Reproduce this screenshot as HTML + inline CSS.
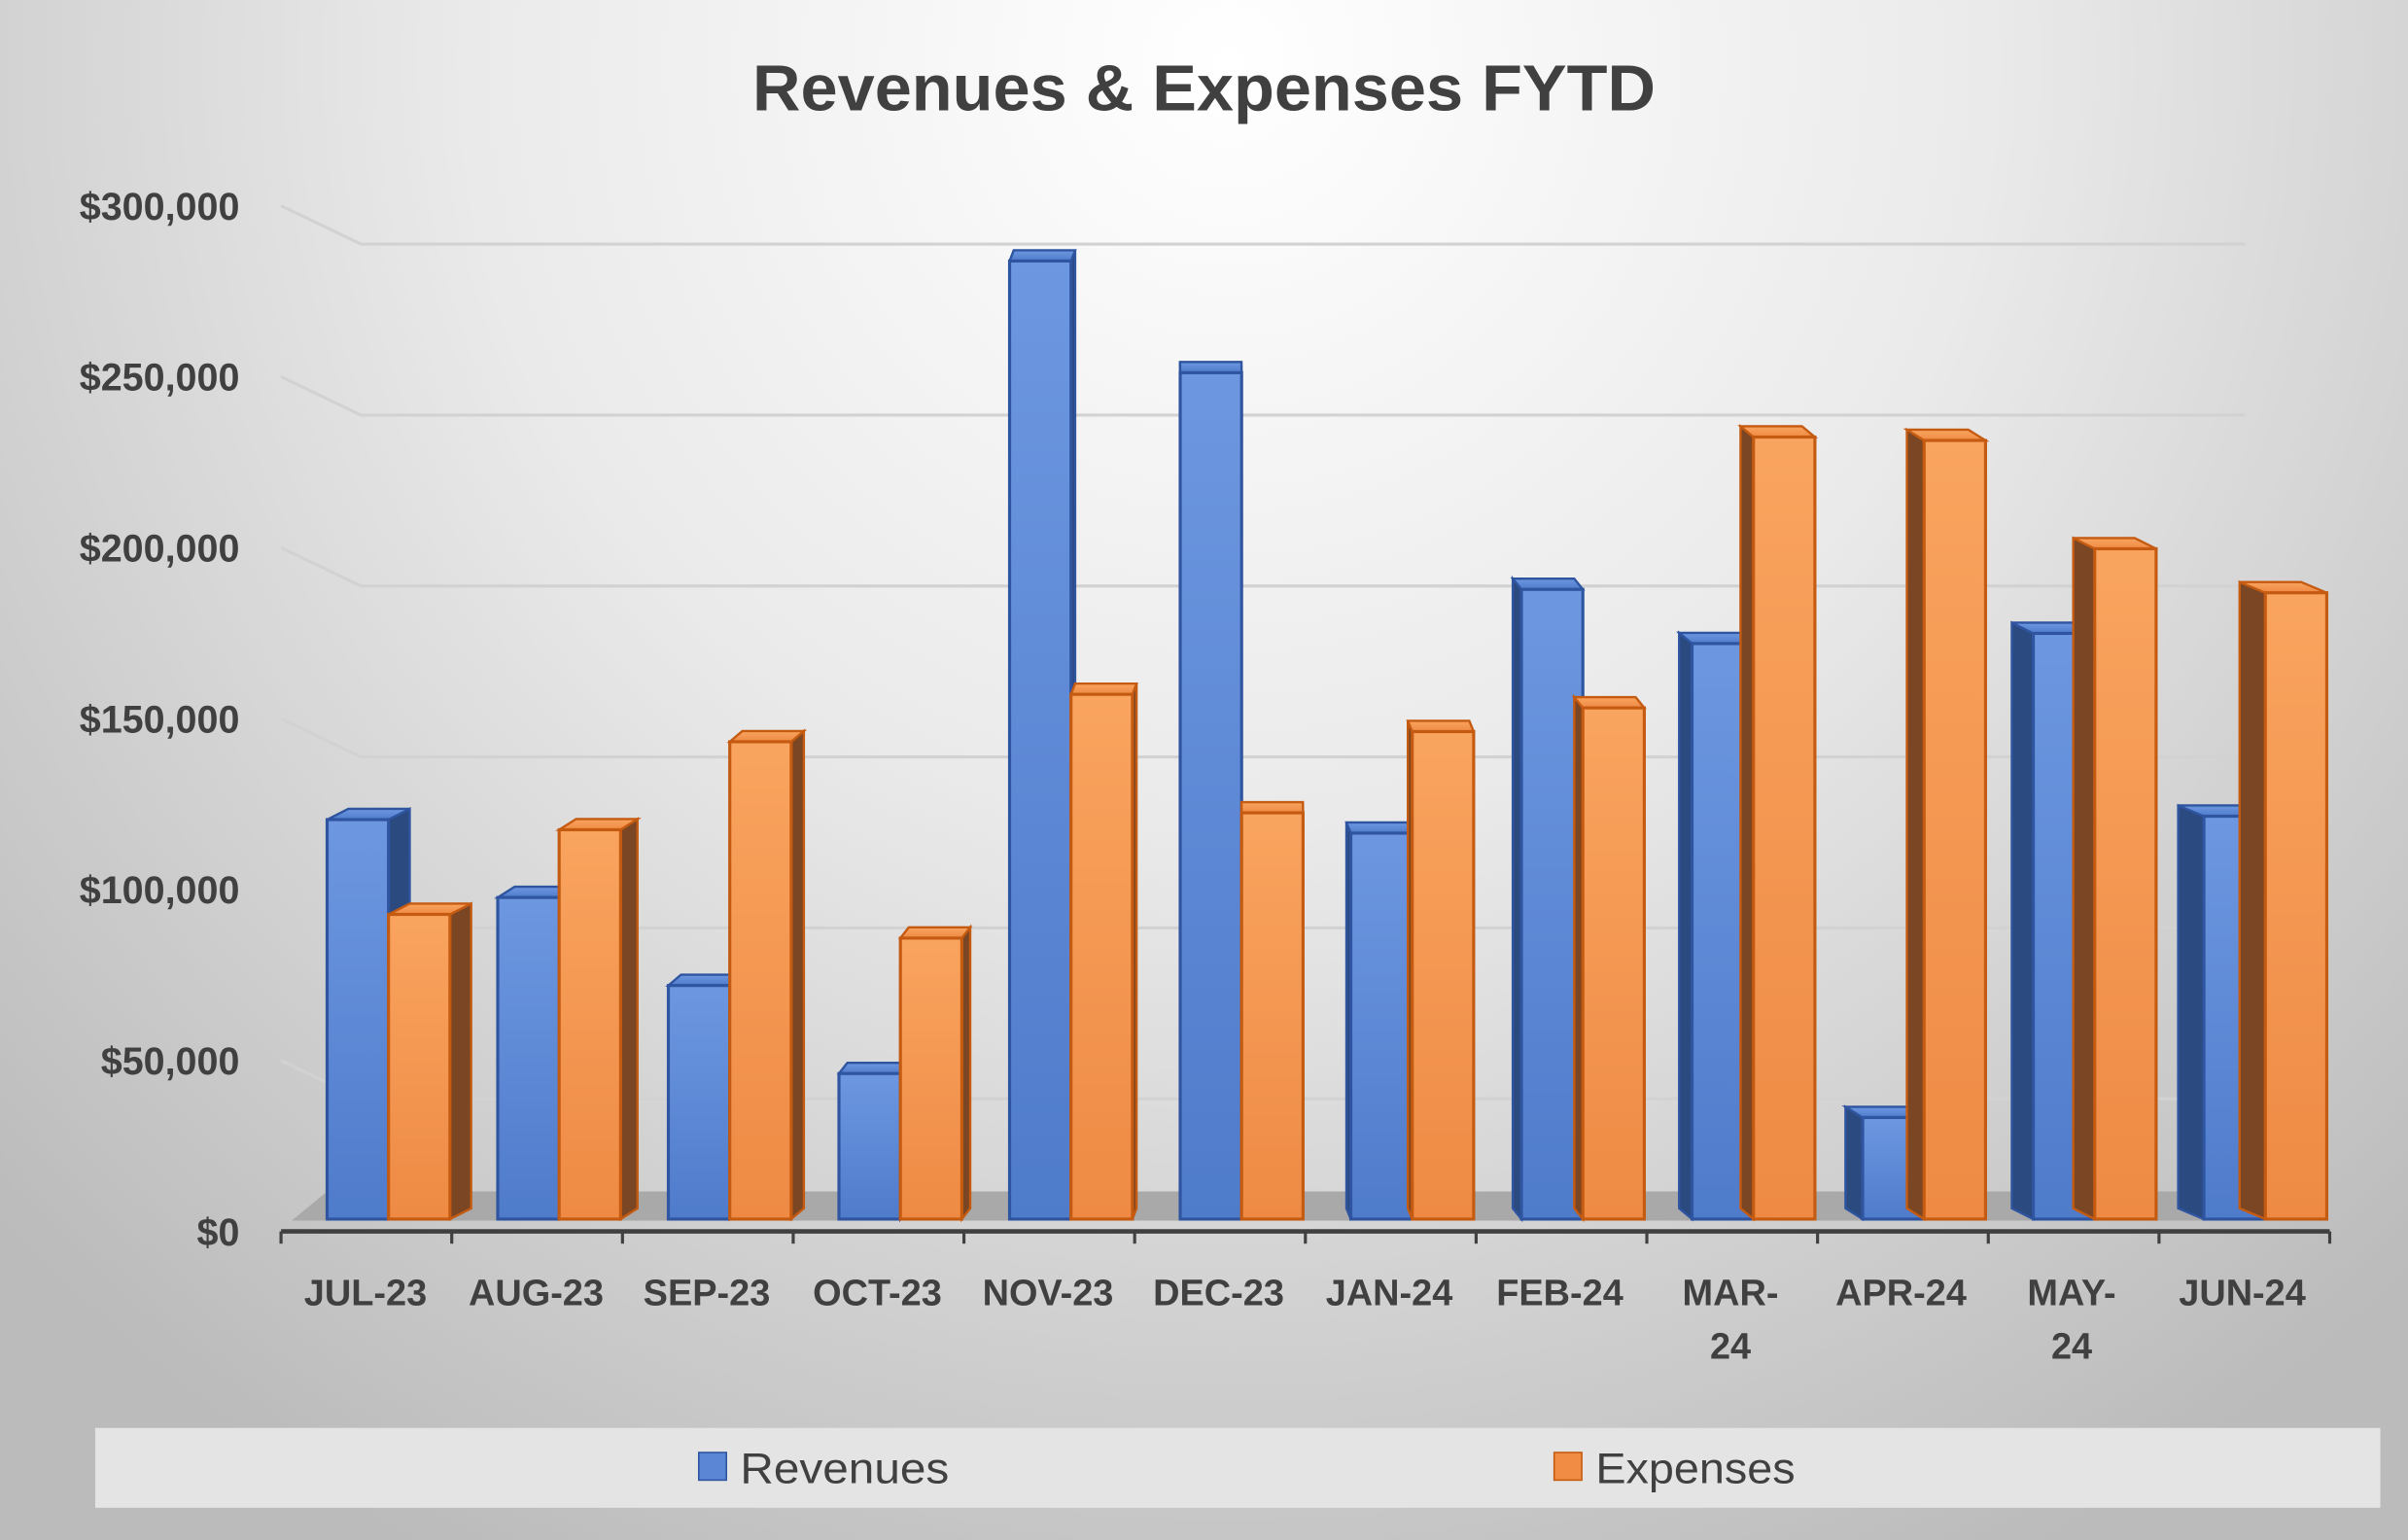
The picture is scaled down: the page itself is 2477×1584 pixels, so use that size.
<!DOCTYPE html>
<html><head><meta charset="utf-8"><style>
html,body{margin:0;padding:0;width:2477px;height:1584px;overflow:hidden;background:#d0d0d0}
svg{display:block}
text{font-family:"Liberation Sans",sans-serif}
</style></head><body>
<svg id="chart" width="2477" height="1584" viewBox="0 0 1568 1003" preserveAspectRatio="none" xmlns="http://www.w3.org/2000/svg">
<defs>
<radialGradient id="bg" cx="800" cy="40" r="1100" gradientUnits="userSpaceOnUse">
<stop offset="0" stop-color="#ffffff"/><stop offset="0.45" stop-color="#eaeaea"/><stop offset="1" stop-color="#bbbbbb"/>
</radialGradient>
<linearGradient id="revG" x1="0" y1="0" x2="0" y2="1"><stop offset="0" stop-color="#6d97e0"/><stop offset="1" stop-color="#4f7bcb"/></linearGradient>
<linearGradient id="expG" x1="0" y1="0" x2="0" y2="1"><stop offset="0" stop-color="#f9a45f"/><stop offset="1" stop-color="#ee8a44"/></linearGradient>
</defs>
<rect x="0" y="0" width="1568" height="1003" fill="url(#bg)"/>
<text x="784" y="72" text-anchor="middle" font-size="42" font-weight="bold" fill="#404040" textLength="588" lengthAdjust="spacingAndGlyphs">Revenues &amp; Expenses FYTD</text>
<g id="grid"></g>
<polygon points="213,776 1490,776 1512,795 190,795" fill="#a9a9a9"/>
<g id="bars"></g>
<g id="axes"></g>
<rect x="62" y="930" width="1488" height="52" fill="#e4e4e4"/>
<g>
<rect x="455" y="946" width="18" height="18" fill="#5b86d6" stroke="#2f55a0"/>
<text x="482" y="966" font-size="28" fill="#404040" textLength="136" lengthAdjust="spacingAndGlyphs">Revenues</text></g>
<g>
<rect x="1012" y="946" width="18" height="18" fill="#f08c44" stroke="#c55a11"/>
<text x="1039" y="966" font-size="28" fill="#404040" textLength="130" lengthAdjust="spacingAndGlyphs">Expenses</text></g>
</svg>
<script>
const categories=["JUL-23","AUG-23","SEP-23","OCT-23","NOV-23","DEC-23","JAN-24","FEB-24","MAR-24","APR-24","MAY-24","JUN-24"];
const revenues=[118000,95000,69000,43000,283000,250000,114000,186000,170000,30000,173000,119000];
const expenses=[90000,115000,141000,83000,155000,120000,144000,151000,231000,230000,198000,185000];
const yTicks=[0,50000,100000,150000,200000,250000,300000];
const yTickLabels=["$0","$50,000","$100,000","$150,000","$200,000","$250,000","$300,000"];
const NS="http://www.w3.org/2000/svg";
function el(t,a,p){const e=document.createElementNS(NS,t);for(const k in a)e.setAttribute(k,a[k]);p.appendChild(e);return e;}
const base=794, perK=2.205/1000;
function y(v){return base-v*perK;}
function xc(i){return 238+i*111.1;}
const grid=document.getElementById('grid'),axes=document.getElementById('axes'),bars=document.getElementById('bars');
yTicks.forEach((t,i)=>{
  const fy=802-(t/300000)*668;
  if(t>0){
    const by=fy+25;
    const g=el('polyline',{points:`183,${fy} 235,${by} 1462,${by}`,fill:'none',stroke:'#d2d2d2','stroke-width':2},grid);
    
    
  }
  const tx=el('text',{x:156,y:fy+9,'text-anchor':'end','font-size':25,'font-weight':'bold',fill:'#404040'},axes);
  tx.textContent=yTickLabels[i];
  
  
});
const ax=el('line',{x1:183,y1:802,x2:1517,y2:802,stroke:'#404040','stroke-width':3},axes);


for(let i=0;i<=12;i++){
  const tx=183+i*111.17;
  const tk=el('line',{x1:tx,y1:802,x2:tx,y2:810,stroke:'#404040','stroke-width':2},axes);
  
  
}
function bar(x0,v,dx,front,edge,side,name){
  const g=el('g',{},bars);
  
  
  const w=40,top=y(v),dy=-7;
  el('polygon',{points:dx>=0?`${x0+w},${top} ${x0+w+dx},${top+dy} ${x0+w+dx},${base+dy} ${x0+w},${base}`:`${x0},${top} ${x0+dx},${top+dy} ${x0+dx},${base+dy} ${x0},${base}`,fill:side,stroke:edge,'stroke-width':1.5},g);
  el('polygon',{points:`${x0},${top} ${x0+w},${top} ${x0+w+dx},${top+dy} ${x0+dx},${top+dy}`,fill:front,stroke:edge,'stroke-width':1.5},g);
  el('rect',{x:x0,y:top,width:w,height:base-top,fill:front,stroke:edge,'stroke-width':2},g);
}
categories.forEach((c,i)=>{
  const cx=xc(i), dx=(790-cx)*0.025;
  bar(cx-25,revenues[i],dx,'url(#revG)','#2f55a0','#2b4a80','bar-revenues-'+c.toLowerCase());
  bar(cx+15,expenses[i],dx,'url(#expG)','#c55a11','#7a4624','bar-expenses-'+c.toLowerCase());
  const t=el('text',{x:cx,y:850,'text-anchor':'middle','font-size':24,'font-weight':'bold',fill:'#404040'},axes);
  
  
  if(c==="MAR-24"||c==="MAY-24"){
    const p=c.split('-');
    el('tspan',{x:cx,dy:0},t).textContent=p[0]+'-';
    el('tspan',{x:cx,dy:35},t).textContent=p[1];
  } else t.textContent=c;
});
</script>
</body></html>
